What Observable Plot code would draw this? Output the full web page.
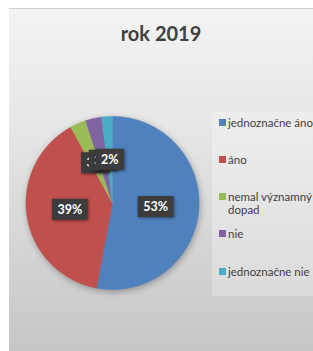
<!DOCTYPE html>
<html>
<head>
<meta charset="utf-8">
<script src="https://cdn.jsdelivr.net/npm/d3@7"></script>
<script src="https://cdn.jsdelivr.net/npm/@observablehq/plot@0.6"></script>
<style>
  html, body { margin: 0; padding: 0; background: #ffffff; }
  #wrap { position: relative; width: 313px; height: 351px; overflow: hidden; font-family: Lato, "Open Sans", sans-serif; }
  #panel { position: absolute; left: 9px; top: 8px; width: 304px; height: 343px;
    background: linear-gradient(to bottom, #f3f3f3 0%, #e6e6e6 35%, #d2d2d2 75%, #c6c6c6 100%);
    border-top: 1px solid #cfcfcf; box-sizing: border-box; }
  #legendbox { position: absolute; left: 212px; top: 112px; width: 101px; height: 184px; background: rgba(255,255,255,0.28); }
  #title { position: absolute; left: 9px; width: 304px; top: 21px; text-align: center; font-weight: bold; font-size: 20px; color: #404040; }
  #chart { position: absolute; left: 0; top: 0; }
  .leg { position: absolute; left: 219px; font-size: 11.5px; color: #404040; line-height: 13px; }
  .leg .sw { position: absolute; left: 0; top: 3px; width: 7px; height: 7px; }
  .leg .tx { position: absolute; left: 9px; top: 0; white-space: nowrap; }
</style>
</head>
<body>
<div id="wrap">
  <div id="panel"></div>
  <div id="legendbox"></div>
  <div id="title"></div>
  <div id="chart"></div>
  <div id="legend"></div>
</div>
<script>
const title = "rok 2019";
const categories = ["jednoznačne áno", "áno", "nemal významný dopad", "nie", "jednoznačne nie"];
const values = [53, 39, 3, 3, 2];
const labels = ["53%", "39%", "3%", "3%", "2%"];
const colors = ["#4f81bd", "#c0504d", "#9bbb59", "#8064a2", "#4bacc6"];
const legendLines = [["jednoznačne áno"], ["áno"], ["nemal významný", "dopad"], ["nie"], ["jednoznačne nie"]];
const legendTops = [116, 153, 190, 227, 265];

document.getElementById("title").textContent = title;

// build slice polygons from the values
const total = d3.sum(values);
const slices = [];
const labelData = [];
let acc = 0;
categories.forEach((key, i) => {
  const a0 = acc / total * 2 * Math.PI;
  acc += values[i];
  const a1 = acc / total * 2 * Math.PI;
  slices.push({key, x: 0, y: 0});
  const n = Math.max(2, Math.ceil((a1 - a0) / 0.01));
  for (let k = 0; k <= n; k++) {
    const a = a0 + (a1 - a0) * k / n;
    slices.push({key, x: Math.sin(a), y: Math.cos(a)});
  }
  const mid = (a0 + a1) / 2;
  labelData.push({key, label: labels[i], x: 0.5 * Math.sin(mid), y: 0.5 * Math.cos(mid)});
});

const svg = Plot.plot({
  width: 313,
  height: 351,
  margin: 0,
  x: {domain: [-1, 1], range: [25.5, 198.5], axis: null},
  y: {domain: [-1, 1], range: [289, 116], axis: null},
  color: {domain: categories, range: colors},
  style: {background: "transparent", fontFamily: "Lato, 'Open Sans', sans-serif", overflow: "visible"},
  marks: [
    Plot.line(slices, {x: "x", y: "y", z: "key", fill: "key", stroke: "key", strokeWidth: 0.6}),
    Plot.text(labelData, {x: "x", y: "y", text: "label", fill: "white", fontWeight: "bold", fontSize: 12.5})
  ]
});
document.getElementById("chart").appendChild(svg);

// pie shadow
d3.select(svg).select('g[aria-label="line"]').style("filter", "drop-shadow(1px 2px 3px rgba(0,0,0,0.3))");

// dark label boxes behind each data label
d3.select(svg).selectAll('g[aria-label="text"] text').each(function() {
  const bb = this.getBBox();
  const padX = 5.5, padY = 3.5;
  const r = d3.select(this.parentNode).insert("rect", () => this)
    .attr("x", bb.x - padX).attr("y", bb.y - padY + 0.5)
    .attr("width", bb.width + 2 * padX).attr("height", bb.height + 2 * padY - 1)
    .attr("fill", "#3c3c3c")
    .style("filter", "drop-shadow(1px 1px 1.5px rgba(0,0,0,0.45))");
  const t = this.getAttribute("transform");
  if (t) r.attr("transform", t);
});

// legend
const legend = document.getElementById("legend");
categories.forEach((c, i) => {
  const item = document.createElement("div");
  item.className = "leg";
  item.style.top = legendTops[i] + "px";
  const sw = document.createElement("div");
  sw.className = "sw";
  sw.style.background = colors[i];
  const tx = document.createElement("div");
  tx.className = "tx";
  tx.innerHTML = legendLines[i].join("<br>");
  item.appendChild(sw);
  item.appendChild(tx);
  legend.appendChild(item);
});
</script>
</body>
</html>
